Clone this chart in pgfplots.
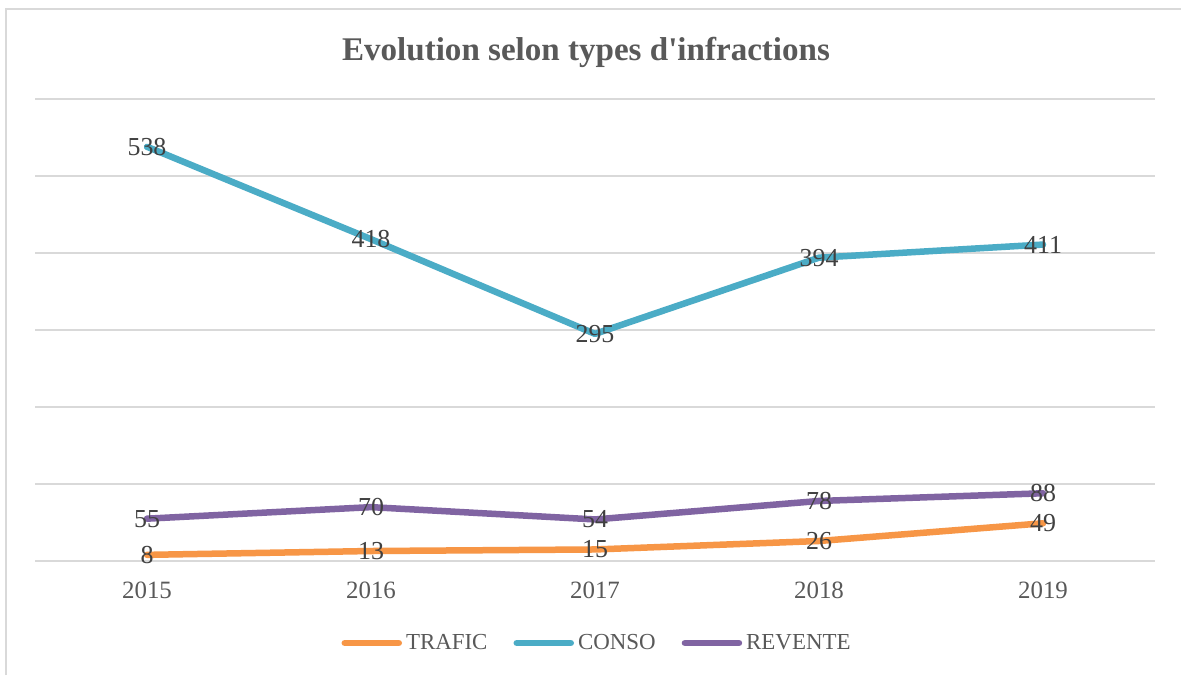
\documentclass[border=0pt]{standalone}
\usepackage{fontspec}
\setmainfont{Liberation Serif}
\usepackage{pgfplots}
\pgfplotsset{compat=1.18}
\definecolor{trafic}{HTML}{F79646}
\definecolor{conso}{HTML}{4BACC6}
\definecolor{revente}{HTML}{8064A2}
\definecolor{gridc}{HTML}{D9D9D9}
\definecolor{txt}{HTML}{595959}
\definecolor{lbl}{HTML}{404040}
\begin{document}
\begin{tikzpicture}[x=0.5bp,y=-0.5bp]
\useasboundingbox (0,0) rectangle (1181,675);
\fill[white] (0,0) rectangle (1181,675);
\draw[gridc, line width=1.2bp] (6,675) -- (6,9) -- (1181,9);
\node[anchor=base, text=txt, font=\bfseries\fontsize{16.6}{20}\selectfont] at (586,60) {Evolution selon types d\textquotesingle infractions};
\begin{axis}[
  at={(17.5bp,-280.5bp)}, anchor=south west,
  scale only axis, width=560bp, height=231bp,
  xmin=-0.5, xmax=4.5, ymin=0, ymax=600, clip=false,
  /pgf/number format/assume math mode=true,
  xtick={0,1,2,3,4}, xticklabels={2015,2016,2017,2018,2019},
  ytick={0,100,...,600}, yticklabels={},
  ymajorgrids, grid style={gridc, line width=1bp},
  axis line style={draw=none}, tick style={draw=none},
  xticklabel style={anchor=north, inner sep=0pt, yshift=-10.5bp, text=txt, font=\fontsize{12.5}{14}\selectfont},
  legend columns=3,
  legend style={draw=none, fill=none, at={(0.5027,-0.1775)}, anchor=center,
    font=\fontsize{11.5}{14}\selectfont, text=txt,
    /tikz/every odd column/.append style={column sep=0bp},
    /tikz/every even column/.append style={column sep=11bp},
    nodes={inner xsep=2bp}},
  legend image code/.code={\draw[#1, line width=3.25bp, line cap=round] (0bp,0bp) -- (27bp,0bp);},
  every axis plot/.append style={line width=3.25bp, line join=round, line cap=round},
  nodes near coords,
  every node near coord/.append style={anchor=center, text=lbl, font=\fontsize{13}{15}\selectfont, inner sep=0pt},
]
\addplot[trafic] coordinates {(0,8) (1,13) (2,15) (3,26) (4,49)};
\addlegendentry{TRAFIC}
\addplot[conso] coordinates {(0,538) (1,418) (2,295) (3,394) (4,411)};
\addlegendentry{CONSO}
\addplot[revente] coordinates {(0,55) (1,70) (2,54) (3,78) (4,88)};
\addlegendentry{REVENTE}
\end{axis}
\end{tikzpicture}
\end{document}
